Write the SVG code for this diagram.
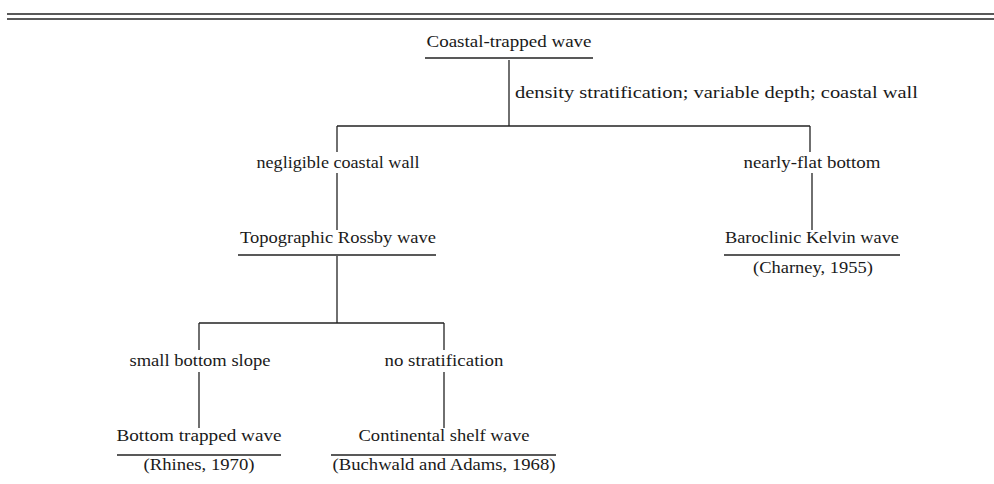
<svg xmlns="http://www.w3.org/2000/svg" width="994" height="484" viewBox="0 0 994 484">
<style>
text{font-family:"Liberation Serif","DejaVu Serif",serif;font-size:17px;fill:#1a1a1a}
.c{text-anchor:middle}
line{stroke:#222;stroke-width:1.3}
</style>
<rect width="994" height="484" fill="#fff"/>
<g id="rule">
<line x1="7" y1="14" x2="994" y2="14" stroke-width="1.6"/>
<line x1="7" y1="19" x2="994" y2="19" stroke-width="1.6"/>
</g>
<g id="connectors">
<line x1="509" y1="60" x2="509" y2="126"/>
<line x1="337" y1="126" x2="810" y2="126"/>
<line x1="337" y1="126" x2="337" y2="152"/>
<line x1="810" y1="126" x2="810" y2="152"/>
<line x1="337" y1="173" x2="337" y2="230"/>
<line x1="812" y1="173" x2="812" y2="230"/>
<line x1="337" y1="256" x2="337" y2="323"/>
<line x1="199" y1="323" x2="444" y2="323"/>
<line x1="199" y1="323" x2="199" y2="350"/>
<line x1="444" y1="323" x2="444" y2="350"/>
<line x1="199" y1="372" x2="199" y2="428"/>
<line x1="444" y1="372" x2="444" y2="428"/>
<text x="515" y="98" textLength="403" lengthAdjust="spacingAndGlyphs">density stratification; variable depth; coastal wall</text>
<text class="c" x="338" y="168" textLength="163" lengthAdjust="spacingAndGlyphs">negligible coastal wall</text>
<text class="c" x="812" y="168" textLength="137" lengthAdjust="spacingAndGlyphs">nearly-flat bottom</text>
<text class="c" x="200" y="366" textLength="141" lengthAdjust="spacingAndGlyphs">small bottom slope</text>
<text class="c" x="444" y="366" textLength="119" lengthAdjust="spacingAndGlyphs">no stratification</text>
</g>
<g id="coastal">
<text class="c" x="509" y="47" textLength="165" lengthAdjust="spacingAndGlyphs">Coastal-trapped  wave</text>
<line x1="425" y1="58" x2="593" y2="58"/>
</g>
<g id="topographic">
<text class="c" x="338" y="243" textLength="196" lengthAdjust="spacingAndGlyphs">Topographic Rossby wave</text>
<line x1="238" y1="255" x2="436" y2="255"/>
</g>
<g id="baroclinic">
<text class="c" x="812" y="243" textLength="174" lengthAdjust="spacingAndGlyphs">Baroclinic Kelvin wave</text>
<line x1="724" y1="255" x2="900" y2="255"/>
<text class="c" x="813" y="273" textLength="120" lengthAdjust="spacingAndGlyphs">(Charney, 1955)</text>
</g>
<g id="bottom">
<text class="c" x="199" y="441" textLength="165" lengthAdjust="spacingAndGlyphs">Bottom trapped wave</text>
<line x1="117" y1="455" x2="281" y2="455"/>
<text class="c" x="199" y="470" textLength="111" lengthAdjust="spacingAndGlyphs">(Rhines, 1970)</text>
</g>
<g id="shelf">
<text class="c" x="444" y="441" textLength="171" lengthAdjust="spacingAndGlyphs">Continental shelf wave</text>
<line x1="331" y1="455" x2="556" y2="455"/>
<text class="c" x="444" y="470" textLength="223" lengthAdjust="spacingAndGlyphs">(Buchwald and Adams, 1968)</text>
</g>
</svg>
